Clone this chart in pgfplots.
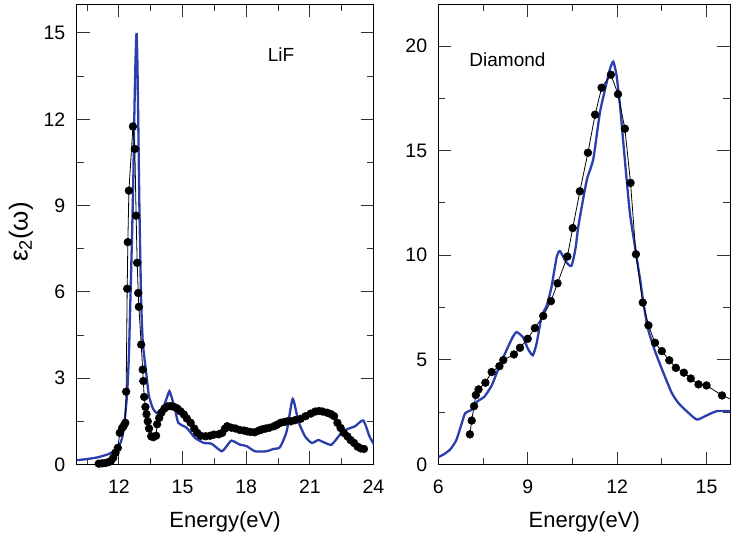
\documentclass[border=0pt]{standalone}
\usepackage{fontspec}
\setmainfont{Liberation Sans}
\usepackage{pgfplots}
\pgfplotsset{compat=1.18}
\definecolor{thblue}{RGB}{42,62,172}
\pgfplotsset{
  common/.style={
    scale only axis, anchor=south west,
    tick align=inside,
    major tick length=13pt, minor tick length=7pt,
    axis line style={line width=1.1pt},
    every tick/.style={line width=1pt, black!80},
    /pgf/number format/assume math mode=true,
    ticklabel style={font=\fontsize{19.5}{22}\selectfont},
    xticklabel style={anchor=base, inner sep=0pt, yshift=-29pt},
    yticklabel style={anchor=east, inner sep=0pt, xshift=-11pt},
    xlabel={Energy(eV)},
    xlabel style={font=\fontsize{22}{26}\selectfont, at={(axis description cs:0.5,-0.1364)}, anchor=base},
  },
  theo/.style={thblue, line width=2.3pt, smooth, tension=0.35, no markers},
  expt/.style={black, line width=0.8pt, mark=*, mark size=3.9pt, mark options={fill=black, draw=black, solid, line width=0.5pt}},
}
\begin{document}
\begin{tikzpicture}
\path[use as bounding box] (0pt,0pt) rectangle (731pt,539pt);
% ---------------- LiF ----------------
\begin{axis}[common,
  at={(76.5pt,74.5pt)}, width=297pt, height=460.3pt,
  xmin=10, xmax=24, ymin=0, ymax=16,
  xtick={12,15,18,21,24}, minor xtick={10.5,13.5,16.5,19.5,22.5},
  ytick={0,3,6,9,12,15}, minor ytick={1.5,4.5,7.5,10.5,13.5},
  ylabel={ε\textsubscript{2}(ω)},
  ylabel style={font=\fontsize{26}{30}\selectfont, at={(axis description cs:-0.187,0.505)}, anchor=center},
]
\addplot[theo] coordinates {
(10.0,0.15) (10.5,0.19) (11.0,0.25) (11.5,0.36) (11.8,0.48) (12.0,0.65) (12.1,0.8) (12.2,1.1) (12.3,1.75)
(12.39,2.5) (12.47,3.8) (12.55,6.0) (12.62,8.0) (12.68,10.0) (12.73,12.3) (12.78,14.0) (12.83,15.0)
(12.87,14.0) (12.91,12.0) (12.96,9.2) (13.0,7.5) (13.05,5.6) (13.12,4.3) (13.2,3.7) (13.3,3.1)
(13.41,2.4) (13.6,1.95) (13.8,1.79) (14.1,2.02) (14.25,2.3) (14.38,2.55) (14.5,2.3) (14.65,1.9)
(14.8,1.45) (15.2,1.27) (15.58,0.93) (16.0,0.75) (16.37,0.72) (16.84,0.46) (17.1,0.66) (17.31,0.83)
(17.71,0.69) (18.02,0.64) (18.41,0.46) (18.96,0.46) (19.28,0.54) (19.59,0.6) (19.91,1.16)
(20.19,2.28) (20.46,1.5) (20.77,0.98) (21.09,0.75) (21.4,0.85) (21.72,0.75) (22.03,0.69)
(22.42,1.04) (22.74,1.22) (23.13,1.33) (23.52,1.53) (23.81,0.98) (24.03,0.69)
};
\addplot[expt] coordinates {
(11.05,0.03) (11.2,0.04) (11.35,0.05) (11.5,0.08) (11.62,0.12) (11.73,0.23) (11.84,0.41) (11.95,0.58)
(12.04,1.1) (12.15,1.27) (12.22,1.33) (12.3,1.45) (12.34,2.53) (12.39,6.11) (12.42,7.73) (12.47,9.52)
(12.66,11.75) (12.75,10.97) (12.81,8.65) (12.86,7.01) (12.91,5.96) (12.94,5.48) (13.05,4.17)
(13.12,3.3) (13.15,2.9) (13.19,2.35) (13.25,2.0) (13.3,1.75) (13.36,1.5) (13.42,1.25) (13.52,0.98)
(13.62,0.95) (13.75,1.0) (13.8,1.4) (13.9,1.62) (14.0,1.8) (14.15,1.95) (14.3,2.02) (14.45,2.03)
(14.6,2.0) (14.75,1.95) (14.9,1.85) (15.06,1.74) (15.2,1.6) (15.38,1.45) (15.55,1.25) (15.69,1.1)
(15.85,1.0) (16.08,0.98) (16.3,1.0) (16.48,1.04) (16.7,1.05) (16.87,1.1) (17.0,1.25) (17.11,1.33)
(17.3,1.28) (17.5,1.25) (17.7,1.2) (17.9,1.18) (18.05,1.15) (18.21,1.13) (18.4,1.12) (18.6,1.18)
(18.75,1.22) (18.92,1.25) (19.1,1.28) (19.31,1.33) (19.45,1.38) (19.62,1.45) (19.8,1.48) (19.95,1.5)
(20.1,1.5) (20.3,1.54) (20.57,1.59) (20.8,1.68) (21.04,1.77) (21.25,1.84) (21.43,1.86) (21.6,1.84)
(21.82,1.8) (22.0,1.75) (22.14,1.68) (22.3,1.45) (22.45,1.27) (22.6,1.1) (22.77,0.98) (22.92,0.85)
(23.08,0.75) (23.25,0.62) (23.4,0.56) (23.55,0.54)
};
\node[font=\fontsize{19}{22}\selectfont, anchor=base, inner sep=0pt] at (axis cs:19.64,14.0) {LiF};
\end{axis}
% ---------------- Diamond ----------------
\begin{axis}[common,
  at={(438.3pt,74.5pt)}, width=292.1pt, height=460.3pt,
  xmin=6, xmax=15.8, ymin=0, ymax=22,
  xtick={6,9,12,15}, minor xtick={7.5,10.5,13.5},
  ytick={0,5,10,15,20}, minor ytick={2.5,7.5,12.5,17.5},
]
\addplot[theo] coordinates {
(6.0,0.35) (6.2,0.5) (6.4,0.72) (6.6,1.15) (6.75,1.8) (6.9,2.45) (7.1,2.6) (7.3,3.0) (7.55,3.25)
(7.8,3.8) (8.05,4.7) (8.3,5.5) (8.5,6.1) (8.63,6.33) (8.85,6.06) (9.0,5.55) (9.17,5.22) (9.3,5.8)
(9.47,7.1) (9.64,7.6) (9.8,8.5) (9.97,9.9) (10.08,10.2) (10.3,9.65) (10.47,9.5) (10.6,10.3)
(10.7,11.4) (10.9,13.0) (11.0,13.7) (11.2,14.6) (11.42,16.8) (11.59,17.9) (11.76,18.9) (11.87,19.25)
(11.98,18.6) (12.1,17.1) (12.2,15.5) (12.32,13.6) (12.43,12.0) (12.6,10.4) (12.77,8.85) (12.88,7.74)
(13.04,6.46) (13.27,5.42) (13.55,4.39) (13.83,3.43) (14.05,2.95) (14.33,2.55) (14.67,2.15)
(14.95,2.31) (15.34,2.55) (15.8,2.55)
};
\addplot[expt] coordinates {
(7.06,1.44) (7.12,2.1) (7.2,2.79) (7.26,3.32) (7.35,3.59) (7.58,3.91) (7.79,4.42) (8.05,4.7)
(8.18,4.99) (8.54,5.26) (8.74,5.58) (9.0,6.01) (9.24,6.52) (9.52,7.1) (9.78,7.81) (10.0,8.66)
(10.33,9.94) (10.51,11.3) (10.75,13.06) (11.02,14.9) (11.26,16.72) (11.48,18.01) (11.79,18.63)
(12.03,17.7) (12.26,16.05) (12.45,13.46) (12.63,10.05) (12.86,7.74) (13.05,6.65) (13.27,5.82)
(13.5,5.42) (13.75,4.98) (13.97,4.62) (14.24,4.39) (14.47,4.11) (14.73,3.83) (15.0,3.78)
(15.52,3.3) (16.1,2.95)
};
\node[font=\fontsize{19}{22}\selectfont, anchor=base, inner sep=0pt] at (axis cs:8.32,19.0) {Diamond};
\end{axis}
\end{tikzpicture}
\end{document}
